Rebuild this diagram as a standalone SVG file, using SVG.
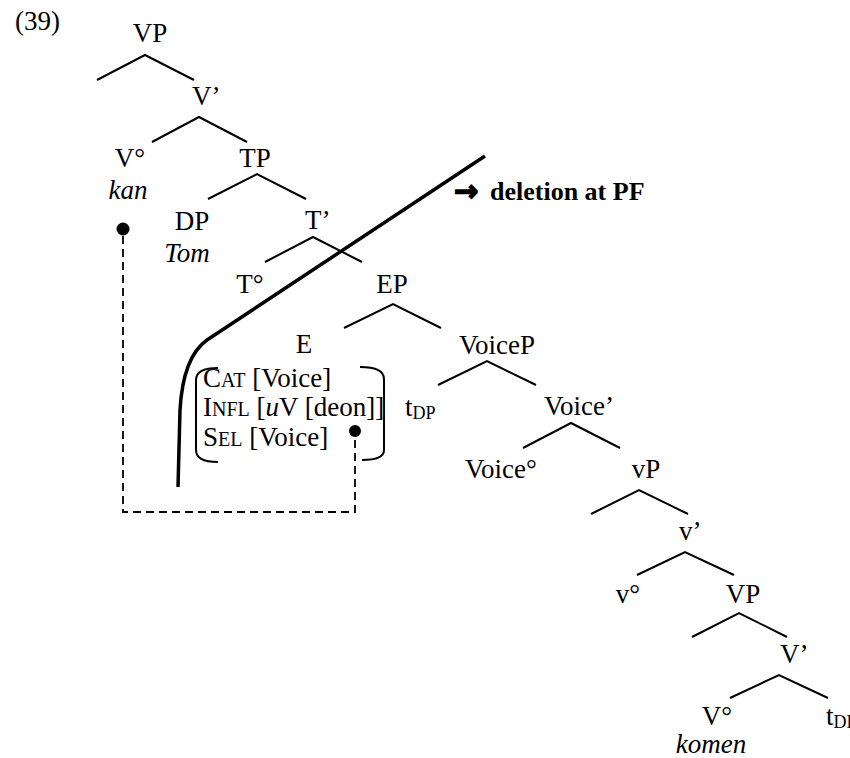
<svg xmlns="http://www.w3.org/2000/svg" width="850" height="758" viewBox="0 0 850 758">
<style>
text{font-family:"Liberation Serif","Times New Roman",serif;font-size:27px;fill:#000}
.m{text-anchor:middle}
.i{font-style:italic}
.sc{font-size:20px}
.sub{font-size:18px}
.b{stroke:#000;stroke-width:2;fill:none}
</style>
<rect width="850" height="758" fill="#fff"/>
<text x="15" y="30">(39)</text>
<g id="connectors">
<polyline class="b" points="97,80 145,55 194,80"/>
<polyline class="b" points="152,142 199,117 247,142"/>
<polyline class="b" points="208,199 257,174 306,199"/>
<polyline class="b" points="265,262 313,237 362,262"/>
<polyline class="b" points="344,328 393,304 441,328"/>
<polyline class="b" points="438,385 487,361 536,385"/>
<polyline class="b" points="523,448 571,423 620,448"/>
<polyline class="b" points="591,514 639,490 688,514"/>
<polyline class="b" points="637,575 685,552 734,575"/>
<polyline class="b" points="692,637 739,613 787,637"/>
<polyline class="b" points="730,698 779,675 828,698"/>
<path d="M123,236 L123,512 L355,512 L355,437" fill="none" stroke="#000" stroke-width="1.8" stroke-dasharray="8 5"/>
<path d="M485,156 L207,340 Q183,357 180,410 L178,487" fill="none" stroke="#000" stroke-width="3.5"/>
</g>
<g id="n-VP"><text class="m" x="150" y="42">VP</text></g>
<g id="n-Vbar"><text x="192" y="105">V’</text></g>
<g id="n-V0"><text class="m" x="130" y="167">V°</text><text class="m i" x="128" y="199">kan</text><circle cx="123" cy="229" r="6.5"/></g>
<g id="n-TP"><text class="m" x="255" y="167">TP</text></g>
<g id="n-DP"><text class="m" x="192" y="230">DP</text><text class="m i" x="187" y="262">Tom</text></g>
<g id="n-Tbar"><text x="305" y="229">T’</text></g>
<g id="n-T0"><text class="m" x="250" y="293">T°</text></g>
<g id="n-EP"><text class="m" x="392" y="293">EP</text></g>
<g id="n-E"><text class="m" x="304" y="353">E</text>
<path class="b" d="M218,368 Q196,368 196,380 L196,450 Q196,462 218,462"/>
<path class="b" d="M360,367 Q384,367 384,379 L384,450 Q384,460 362,460"/>
<text x="203" y="387">C<tspan class="sc">AT</tspan> [Voice]</text>
<text x="203" y="416">I<tspan class="sc">NFL</tspan> [<tspan class="i">u</tspan>V [deon]]</text>
<text x="203" y="446">S<tspan class="sc">EL</tspan> [Voice]</text>
<circle cx="355" cy="431" r="6"/></g>
<g id="n-PF"><text x="454" y="201" font-weight="bold"><tspan font-family="DejaVu Sans" font-size="29" stroke="#000" stroke-width="1.6">→</tspan><tspan x="490" y="200" font-size="26">deletion at PF</tspan></text></g>
<g id="n-VoiceP"><text class="m" x="497" y="354">VoiceP</text></g>
<g id="n-tDP1"><text x="405" y="416">t<tspan class="sub" dy="3">DP</tspan></text></g>
<g id="n-Voicebar"><text x="544" y="415">Voice’</text></g>
<g id="n-Voice0"><text class="m" x="501" y="478">Voice°</text></g>
<g id="n-vP"><text class="m" x="646" y="478">vP</text></g>
<g id="n-vbar"><text x="679" y="540">v’</text></g>
<g id="n-v0"><text class="m" x="628" y="603">v°</text></g>
<g id="n-VP2"><text class="m" x="743" y="603">VP</text></g>
<g id="n-Vbar2"><text x="780" y="663">V’</text></g>
<g id="n-V02"><text class="m" x="717" y="725">V°</text><text class="m i" x="711" y="753">komen</text></g>
<g id="n-tDP2"><text x="826" y="725">t<tspan class="sub" dy="3">DP</tspan></text></g>
</svg>
